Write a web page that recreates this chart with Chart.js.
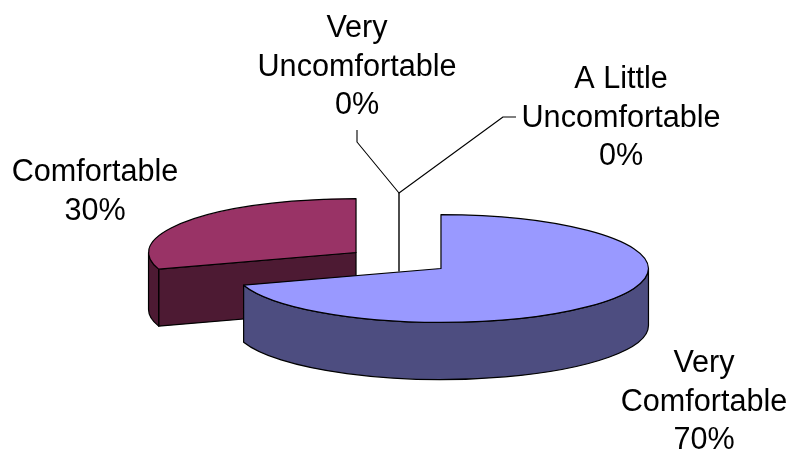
<!DOCTYPE html>
<html>
<head>
<meta charset="utf-8">
<style>html,body{margin:0;padding:0;background:#fff}canvas{display:block}</style>
<script src="https://cdn.jsdelivr.net/npm/chart.js@4"></script>
</head>
<body>
<canvas id="chart" width="791" height="454"></canvas>
<script>
// Survey answers, in slice order (clockwise from twelve o'clock)
const categories = [["Very", "Comfortable"], ["Comfortable"], ["A Little", "Uncomfortable"], ["Very", "Uncomfortable"]];
const shares = [70, 30, 0, 0];
const topColors = ["#9999FF", "#993366", "#FFFFCC", "#CCFFFF"];
const wallColors = ["#4D4D80", "#4D1A33", "#808066", "#668080"];

// Perspective of the tilted, exploded pie
const TILT = 0.26;
const DEPTH = 57;
const EXPLODE = 52.5;
const FONT = '30.6px "Liberation Sans", Arial, sans-serif';
const LINE_HEIGHT = 38.5;
// Centre x and first baseline of each data label block
const labelAnchors = [[704, 372], [95, 181], [621, 88], [357, 37]];

// Exploded centre of an arc on screen
function arcCentre(arc) {
  const mid = (arc.startAngle + arc.endAngle) / 2;
  return {
    x: arc.x + Math.cos(mid) * EXPLODE,
    y: arc.y + Math.sin(mid) * EXPLODE * TILT
  };
}

function drawWalls(ctx, arc, fill) {
  const c = arcCentre(arc);
  const r = arc.outerRadius;
  const s = arc.startAngle, e = arc.endAngle;
  ctx.fillStyle = fill;
  ctx.strokeStyle = "#000";
  ctx.lineWidth = 1.2;
  ctx.lineJoin = "round";
  // Cut face along the start edge, seen when it turns towards the viewer
  if (Math.sin(s - Math.PI / 2) > 1e-6) {
    const rx = c.x + Math.cos(s) * r, ry = c.y + Math.sin(s) * r * TILT;
    ctx.beginPath();
    ctx.moveTo(c.x, c.y);
    ctx.lineTo(rx, ry);
    ctx.lineTo(rx, ry + DEPTH);
    ctx.lineTo(c.x, c.y + DEPTH);
    ctx.closePath();
    ctx.fill();
    ctx.stroke();
  }
  // Curved outer wall, limited to the front half of the rim
  const a0 = Math.max(s, 0), a1 = Math.min(e, Math.PI);
  if (a1 > a0) {
    ctx.beginPath();
    ctx.ellipse(c.x, c.y, r, r * TILT, 0, a0, a1);
    ctx.ellipse(c.x, c.y + DEPTH, r, r * TILT, 0, a1, a0, true);
    ctx.closePath();
    ctx.fill();
    ctx.stroke();
  }
}

const tiltedPie = {
  id: "tiltedPie",
  beforeDatasetsDraw(chart) {
    const ctx = chart.ctx;
    const arcs = chart.getDatasetMeta(0).data;
    // Walls, far slice first
    [1, 0].forEach(i => drawWalls(ctx, arcs[i], wallColors[i]));

    // Leader lines of the two empty slices meet above the centre
    const hubX = arcs[0].x + 0.5, hubY = 193;
    ctx.strokeStyle = "#000";
    ctx.lineWidth = 1.1;
    ctx.beginPath();
    ctx.moveTo(357, 130); ctx.lineTo(357, 142); ctx.lineTo(hubX, hubY);
    ctx.lineTo(503, 117); ctx.lineTo(516, 117);
    ctx.stroke();
    ctx.lineWidth = 1.4;
    ctx.beginPath();
    ctx.moveTo(hubX, hubY); ctx.lineTo(hubX, arcs[0].y + 11);
    ctx.stroke();
  },
  beforeDatasetDraw(chart) {
    const ctx = chart.ctx;
    const arcs = chart.getDatasetMeta(0).data;
    [1, 0].forEach(i => {
      const a = arcs[i], c = arcCentre(a);
      // The library's arc element paints the top on a flattened, shifted plane
      ctx.save();
      ctx.translate(c.x, c.y);
      ctx.scale(1, TILT);
      ctx.translate(-a.x, -a.y);
      a.draw(ctx);
      ctx.restore();
      // Outline at an even pen width
      ctx.strokeStyle = "#000";
      ctx.lineWidth = 1.2;
      ctx.lineJoin = "round";
      ctx.beginPath();
      ctx.moveTo(c.x, c.y);
      ctx.ellipse(c.x, c.y, a.outerRadius, a.outerRadius * TILT, 0, a.startAngle, a.endAngle);
      ctx.closePath();
      ctx.stroke();
    });
    return false;
  },
  afterDraw(chart) {
    const ctx = chart.ctx;
    ctx.fillStyle = "#000";
    ctx.font = FONT;
    ctx.textAlign = "center";
    ctx.textBaseline = "alphabetic";
    categories.forEach((words, i) => {
      const [x, y] = labelAnchors[i];
      [...words, shares[i] + "%"].forEach((t, j) => ctx.fillText(t, x, y + j * LINE_HEIGHT));
    });
  }
};

new Chart(document.getElementById("chart"), {
  type: "pie",
  data: {
    labels: categories.map(w => w.join(" ")),
    datasets: [{
      data: shares,
      backgroundColor: topColors,
      borderWidth: 0
    }]
  },
  options: {
    responsive: false,
    animation: false,
    radius: 207.5,
    layout: { padding: { left: 6, top: 67 } },
    plugins: { legend: { display: false }, tooltip: { enabled: false } }
  },
  plugins: [tiltedPie]
});
</script>
</body>
</html>
